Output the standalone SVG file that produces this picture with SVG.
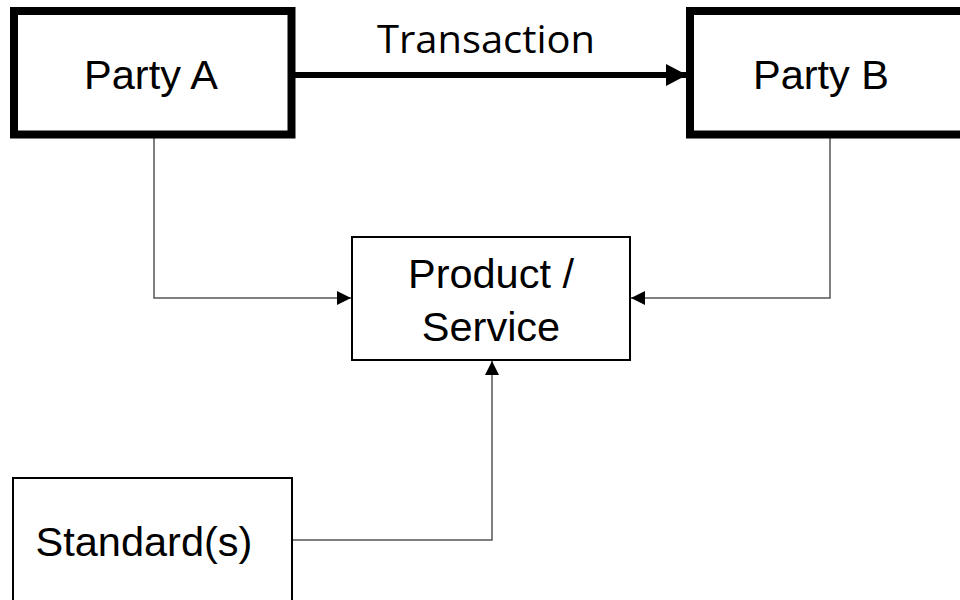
<svg xmlns="http://www.w3.org/2000/svg" width="960" height="600" viewBox="0 0 960 600">
<style>
  .lbl { font-family: "Liberation Sans", Arial, sans-serif; font-size: 41.5px; fill: #000; text-anchor: middle; }
  .thick { fill: #fff; stroke: #000; stroke-width: 8; }
  .thin { fill: #fff; stroke: #000; stroke-width: 2; }
  .conn { fill: none; stroke: #555; stroke-width: 1.5; }
</style>
<defs>
  <marker id="ah" viewBox="0 0 10 10" refX="10" refY="5" markerWidth="14" markerHeight="14" markerUnits="userSpaceOnUse" orient="auto">
    <path d="M0,0 L10,5 L0,10 Z" fill="#000"/>
  </marker>
  <marker id="ahBig" viewBox="0 0 10 10" refX="10" refY="5" markerWidth="21" markerHeight="22" markerUnits="userSpaceOnUse" orient="auto" preserveAspectRatio="none">
    <path d="M0,0 L10,5 L0,10 Z" fill="#000"/>
  </marker>
</defs>
<rect width="960" height="600" fill="#fff"/>
<g id="connectors">
  <path class="conn" d="M154,138 V298 H351" marker-end="url(#ah)"/>
  <path class="conn" d="M830,138 V298 H631" marker-end="url(#ah)"/>
  <path class="conn" d="M292,540 H492 V361" marker-end="url(#ah)"/>
  <line x1="295" y1="75" x2="687" y2="75" stroke="#000" stroke-width="6" marker-end="url(#ahBig)"/>
  <text x="486" y="53" font-family="'Open Sans', 'Liberation Sans', sans-serif" font-size="38" text-anchor="middle" textLength="218" lengthAdjust="spacingAndGlyphs">Transaction</text>
</g>
<g id="partyA">
  <rect class="thick" x="14" y="11" width="277.5" height="123.5"/>
  <text class="lbl" x="151" y="89">Party A</text>
</g>
<g id="partyB">
  <rect class="thick" x="690" y="11" width="290" height="123.5"/>
  <text class="lbl" x="821" y="89">Party B</text>
</g>
<g id="product">
  <rect class="thin" x="352" y="237" width="278" height="123"/>
  <text class="lbl" x="491" y="288">Product /</text>
  <text class="lbl" x="491" y="341">Service</text>
</g>
<g id="standards">
  <rect class="thin" x="13" y="478" width="279" height="140"/>
  <text class="lbl" x="144" y="556">Standard(s)</text>
</g>
</svg>
